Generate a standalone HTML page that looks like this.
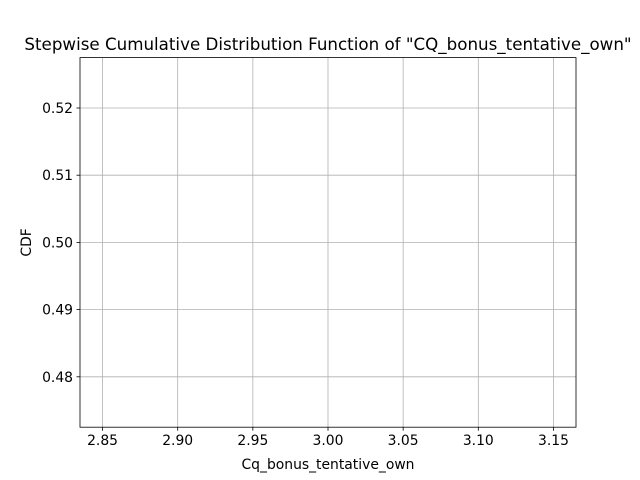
<!DOCTYPE html>
<html><head><meta charset="utf-8"><style>
body{margin:0;background:#fff;}
svg{display:block;font-family:"DejaVu Sans","Liberation Sans",sans-serif;}
</style></head><body>
<svg id="chart" width="640" height="480">
<rect width="640" height="480" fill="#fff"/>
<g id="grid"></g>
<g id="marks"></g>
<rect x="80" y="57.6" width="496" height="369.6" fill="none" stroke="#000" stroke-width="0.8"/>
<g id="ticks"></g>
<text x="328" y="50" text-anchor="middle" font-size="16.7">Stepwise Cumulative Distribution Function of "CQ_bonus_tentative_own"</text>
<text x="328" y="469" text-anchor="middle" font-size="13.9">Cq_bonus_tentative_own</text>
<text x="31" y="242.4" text-anchor="middle" font-size="13.9" transform="rotate(-90 31 242.4)">CDF</text>
</svg>
<script>
const xValues=[3.0];
const cdfValues=[0.5];
const xTicks=[2.85,2.90,2.95,3.00,3.05,3.10,3.15];
const yTicks=[0.48,0.49,0.50,0.51,0.52];
const X0=80,X1=576,Y0=427.2,Y1=57.6,xmin=2.835,xmax=3.165,ymin=0.4725,ymax=0.5275;
function sx(v){return X0+(v-xmin)/(xmax-xmin)*(X1-X0);}
function sy(v){return Y0-(v-ymin)/(ymax-ymin)*(Y0-Y1);}
const NS="http://www.w3.org/2000/svg";
const grid=document.getElementById('grid'),ticks=document.getElementById('ticks'),marks=document.getElementById('marks');
function mk(tag,attrs,parent){const e=document.createElementNS(NS,tag);for(const k in attrs)e.setAttribute(k,attrs[k]);parent.appendChild(e);return e;}
xTicks.forEach(t=>{const x=sx(t);
 const g=mk('line',{x1:x,x2:x,y1:Y1,y2:Y0,stroke:'#b0b0b0','stroke-width':0.8},grid);
 
 
 const tk=mk('line',{x1:x,x2:x,y1:Y0,y2:Y0+3.5,stroke:'#000','stroke-width':0.8},ticks);
 
 
 const l=mk('text',{x:x,y:Y0+18,'text-anchor':'middle','font-size':13.9},ticks);l.textContent=t.toFixed(2);
 
 
});
yTicks.forEach(t=>{const y=sy(t);
 const g=mk('line',{x1:X0,x2:X1,y1:y,y2:y,stroke:'#b0b0b0','stroke-width':0.8},grid);
 
 
 const tk=mk('line',{x1:X0-3.5,x2:X0,y1:y,y2:y,stroke:'#000','stroke-width':0.8},ticks);
 
 
 const l=mk('text',{x:X0-7,y:y+5,'text-anchor':'end','font-size':13.9},ticks);l.textContent=t.toFixed(2);
 
 
});
let d='';xValues.forEach((v,i)=>{d+=(i?'H':'M')+sx(v)+' '+(i?'':sy(cdfValues[i]))+(i?' V'+sy(cdfValues[i]):'');});
const p=mk('path',{d:d,fill:'none',stroke:'#1f77b4','stroke-width':1.5},marks);


</script>
</body></html>
